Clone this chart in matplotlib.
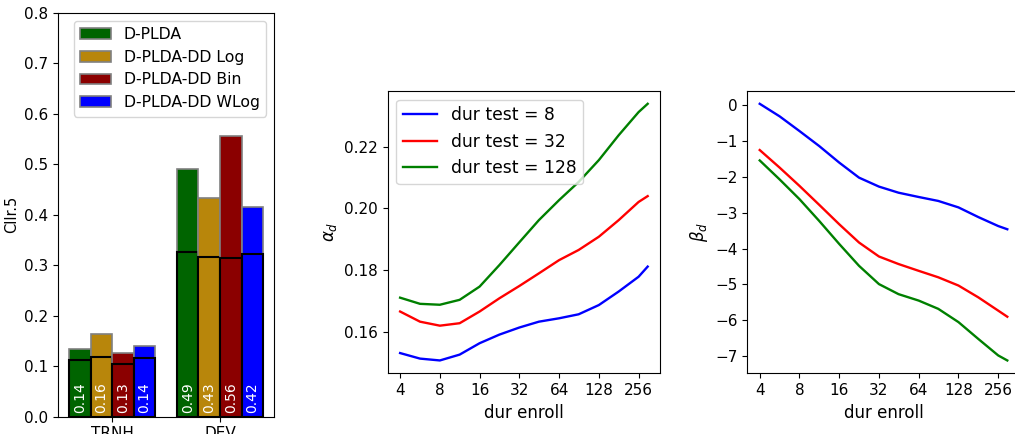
import numpy as np
import matplotlib
matplotlib.use('Agg')
import matplotlib.pyplot as plt
from matplotlib.ticker import FixedLocator, NullLocator, FuncFormatter

# Left panel: Cllr per system, TRNH / DEV
sets = ['TRNH', 'DEV']
systems = ['D-PLDA', 'D-PLDA-DD Log', 'D-PLDA-DD Bin', 'D-PLDA-DD WLog']
colors = ['darkgreen', 'darkgoldenrod', 'darkred', 'blue']
cllr_act = [[0.135, 0.490], [0.163, 0.434], [0.126, 0.556], [0.140, 0.416]]
cllr_min = [[0.112, 0.326], [0.118, 0.317], [0.104, 0.315], [0.117, 0.323]]

# Middle / right panels: alpha_d, beta_d vs enroll duration
dur_enroll = [4, 5.66, 8, 11.3, 16, 22.6, 32, 45, 64, 90, 128, 181, 256, 300]
dur_test = [8, 32, 128]
line_colors = ['b', 'r', 'g']
alpha_d = [
    [0.1530, 0.1512, 0.1506, 0.1525, 0.1562, 0.1590, 0.1613, 0.1632, 0.1643, 0.1656, 0.1686, 0.1730, 0.1778, 0.1811],
    [0.1665, 0.1632, 0.1619, 0.1627, 0.1665, 0.1708, 0.1748, 0.1789, 0.1832, 0.1865, 0.1908, 0.1962, 0.2021, 0.2040],
    [0.1710, 0.1690, 0.1687, 0.1703, 0.1746, 0.1816, 0.1890, 0.1962, 0.2027, 0.2086, 0.2157, 0.2238, 0.2313, 0.2340],
]
beta_d = [
    [0.04, -0.31, -0.72, -1.14, -1.60, -2.02, -2.27, -2.44, -2.56, -2.67, -2.85, -3.12, -3.37, -3.46],
    [-1.25, -1.74, -2.25, -2.78, -3.32, -3.83, -4.22, -4.43, -4.62, -4.80, -5.03, -5.36, -5.73, -5.90],
    [-1.54, -2.07, -2.62, -3.23, -3.87, -4.48, -4.99, -5.27, -5.45, -5.68, -6.05, -6.52, -6.98, -7.12],
]
xticks = [4, 8, 16, 32, 64, 128, 256]

plt.rcParams['font.size'] = 11
plt.rcParams['axes.labelsize'] = 12

fig = plt.figure(figsize=(10.15, 4.34), dpi=100)
ax1 = fig.add_axes([0.0574, 0.0399, 0.2125, 0.9309])
ax2 = fig.add_axes([0.3820, 0.1399, 0.2683, 0.6505])
ax3 = fig.add_axes([0.7363, 0.1399, 0.2683, 0.6505])

x = np.arange(len(sets))
w = 0.2
for i, name in enumerate(systems):
    pos = x + (i - 1.5) * w
    ax1.bar(pos, cllr_act[i], w, color=colors[i], edgecolor='gray', linewidth=1.2, label=name)
    ax1.bar(pos, cllr_min[i], w, color=colors[i], edgecolor='black', linewidth=1.5)
    for p, v in zip(pos, cllr_act[i]):
        ax1.text(p, 0.008, '%.2f' % v, color='white', rotation=90, ha='center', va='bottom', fontsize=10)
ax1.set_xticks(x)
ax1.set_xticklabels(sets)
ax1.set_xlim(-0.5, 1.5)
ax1.set_ylim(0, 0.8)
ax1.set_ylabel('Cllr.5', fontsize=10.5)
ax1.legend(loc='upper right', fontsize=11.3)

for ax, data, lab in [(ax2, alpha_d, r'$\alpha_d$'), (ax3, beta_d, r'$\beta_d$')]:
    for k, t in enumerate(dur_test):
        ax.plot(dur_enroll, data[k], color=line_colors[k], linewidth=1.7, label='dur test = %d' % t)
    ax.set_xscale('log', base=2)
    ax.xaxis.set_major_locator(FixedLocator(xticks))
    ax.xaxis.set_minor_locator(NullLocator())
    ax.xaxis.set_major_formatter(FuncFormatter(lambda v, p: '%d' % v))
    ax.set_xlabel('dur enroll')
    ax.set_ylabel(lab)

ax2.set_yticks([0.16, 0.18, 0.20, 0.22])
ax2.legend(loc='upper left', fontsize=12.3)

fig.savefig('out.png', dpi=100)
